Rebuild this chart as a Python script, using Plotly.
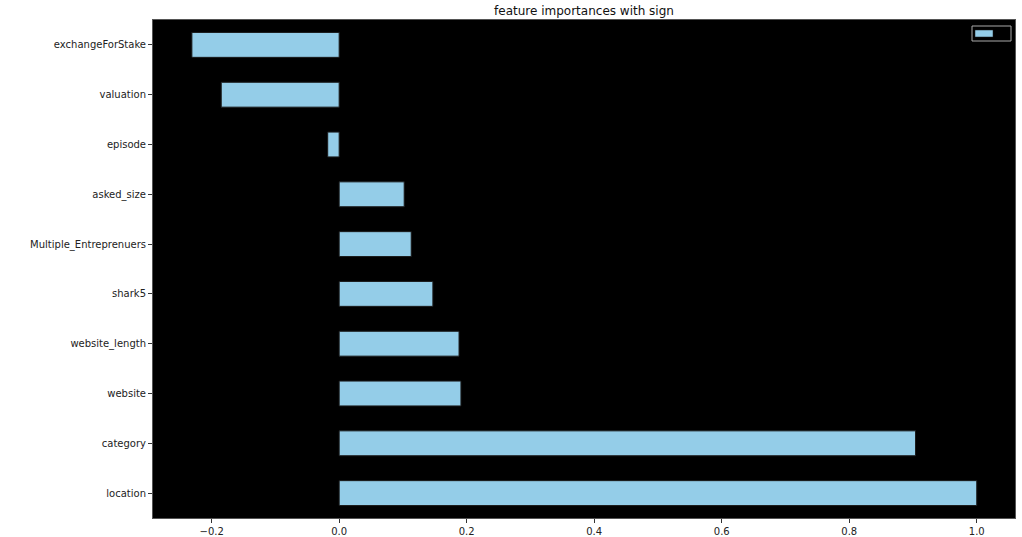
import plotly.graph_objects as go

features = ["location", "category", "website", "website_length", "shark5",
            "Multiple_Entreprenuers", "asked_size", "episode", "valuation",
            "exchangeForStake"]
importances = [1.0, 0.904, 0.191, 0.188, 0.147, 0.113, 0.102, -0.018, -0.185, -0.231]
x_ticks = [-0.2, 0.0, 0.2, 0.4, 0.6, 0.8, 1.0]
x_tick_labels = ["−0.2", "0.0", "0.2", "0.4", "0.6", "0.8", "1.0"]

bar_color = "#94CDE8"

fig = go.Figure()
fig.add_trace(go.Bar(
    x=importances, y=list(range(len(features))), orientation="h",
    width=0.5, marker=dict(color=bar_color, line=dict(color="#1a1a1a", width=1)),
    showlegend=False, hoverinfo="x+text", text=features, textposition="none",
))

fig.update_layout(
    width=1022, height=537,
    margin=dict(l=153, r=7, t=20, b=19, autoexpand=False),
    paper_bgcolor="white", plot_bgcolor="black",
    font=dict(family="DejaVu Sans", size=10, color="#222222"),
    title=dict(text="feature importances with sign", x=0.5, xanchor="center",
               xref="paper", y=1, yref="paper", yanchor="bottom", pad=dict(b=5),
               font=dict(size=12, color="#111111")),
    xaxis=dict(range=[-0.292, 1.060], tickvals=x_ticks, ticktext=x_tick_labels,
               ticks="outside", ticklen=4, tickcolor="#333333", showgrid=False,
               zeroline=False, showline=True, linecolor="#555555", mirror=True),
    yaxis=dict(range=[-0.5, 9.5], tickvals=list(range(len(features))), ticktext=features,
               ticks="outside", ticklen=4, tickcolor="#333333", showgrid=False,
               zeroline=False, showline=True, linecolor="#555555", mirror=True),
    bargap=0.5,
)

# legend box (empty label, like matplotlib default legend)
fig.add_shape(type="rect", xref="paper", yref="paper",
              x0=(972-153)/862, x1=(1011-153)/862, y0=(518-41)/498, y1=(518-26)/498,
              line=dict(color="#aaaaaa", width=1), fillcolor="black")
fig.add_shape(type="rect", xref="paper", yref="paper",
              x0=(975-153)/862, x1=(993-153)/862, y0=(518-37)/498, y1=(518-30)/498,
              line=dict(color="#1a1a1a", width=0.5), fillcolor=bar_color)

fig.write_html("out.html", config={"displayModeBar": False},
               post_script="document.body.style.margin='0';document.body.style.overflow='hidden';")
